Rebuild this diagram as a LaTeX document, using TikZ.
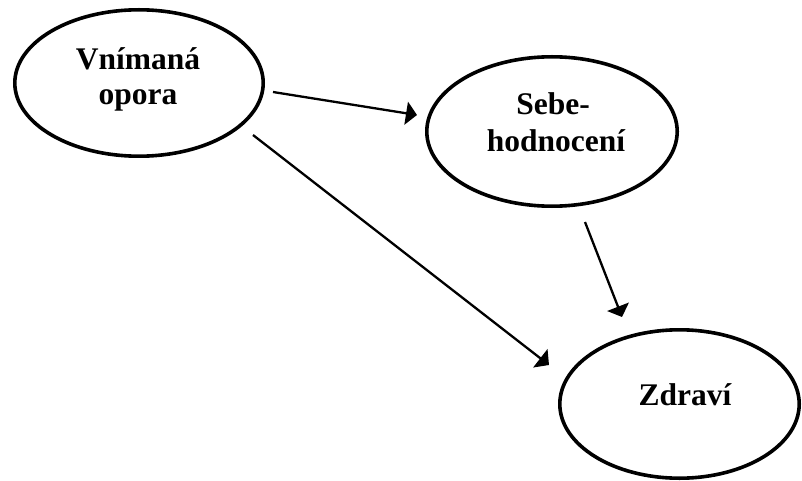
\documentclass[tikz,border=0pt]{standalone}
\usepackage{fontspec}
\setmainfont{Liberation Serif}
\usetikzlibrary{shapes.geometric,arrows.meta}

\begin{document}
\begin{tikzpicture}[x=1pt,y=-1pt,
  bubble/.style={ellipse,draw=black,line width=3.6pt,inner sep=0pt,fill=white},
  word/.style={anchor=base,inner sep=0pt,font=\fontsize{31.5}{35}\selectfont\bfseries},
  link/.style={draw=black,line width=2.3pt,-{Triangle[length=11pt,width=23pt]}}]

  \useasboundingbox (0,0) rectangle (802,481);

  % ovals
  \node[bubble,minimum width=248.4pt,minimum height=146.4pt] (opora) at (139,83) {};
  \node[bubble,minimum width=250.4pt,minimum height=149.4pt] (sebe) at (552,131.5) {};
  \node[bubble,minimum width=239.4pt,minimum height=148.4pt] (zdravi) at (679.5,404) {};

  % labels, one node per line
  \node[word] (opora1) at (138,70) {Vnímaná};
  \node[word] (opora2) at (138,105) {opora};
  \node[word] (sebe1) at (553,115) {Sebe-};
  \node[word] (sebe2) at (556,152) {hodnocení};
  \node[word] (zdravi1) at (685,405) {Zdraví};

  % free ends of the connectors
  \coordinate (p1s) at (273,92);
  \coordinate (p1e) at (417,115);
  \coordinate (p2s) at (253,135);
  \coordinate (p2e) at (549,365);
  \coordinate (p3s) at (585,222);
  \coordinate (p3e) at (622,317);

  \draw[link] (p1s) -- (p1e);
  \draw[link] (p2s) -- (p2e);
  \draw[link] (p3s) -- (p3e);
\end{tikzpicture}
\end{document}
